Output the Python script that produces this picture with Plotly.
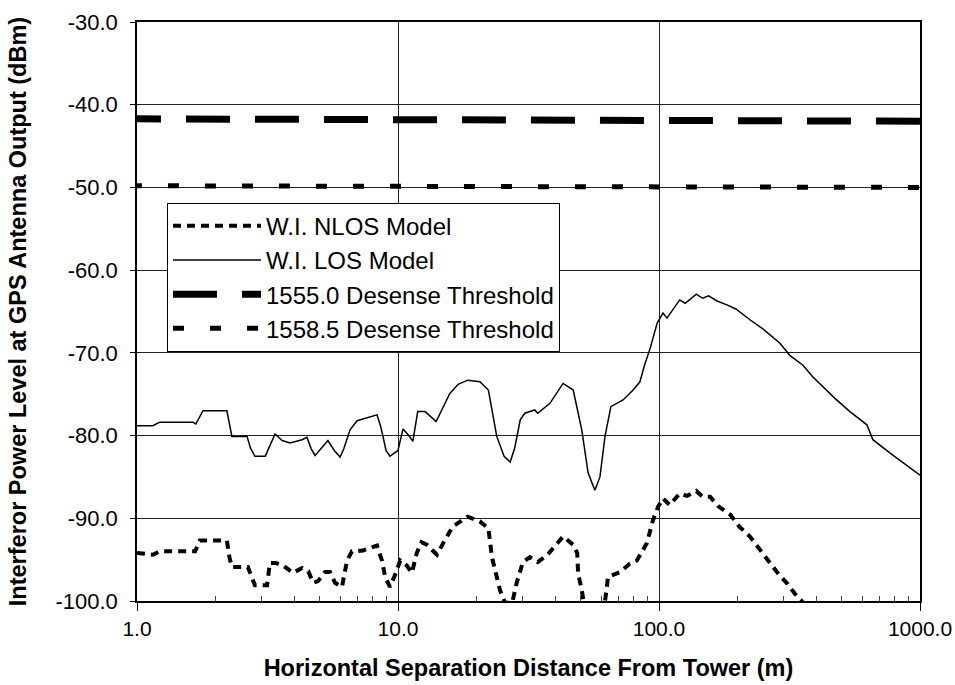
import plotly.graph_objects as go

# ---- data ----
los_x = [1.0, 1.15, 1.22, 1.64, 1.68, 1.79, 2.21, 2.31, 2.64, 2.72, 2.83, 3.1, 3.15, 3.38, 3.6, 3.86,
         4.29, 4.48, 4.65, 4.81, 5.0, 5.39, 5.7, 6.0, 6.2, 6.55, 6.97, 7.5, 8.31, 8.6, 9.0, 9.31, 10.0,
         10.45, 11.0, 11.4, 11.9, 12.7, 14.0, 15.8, 17.0, 18.5, 20.6, 22.2, 23.9, 25.5, 26.9, 28.0,
         29.4, 30.6, 33.4, 34.3, 38.2, 42.9, 46.9, 50.6, 53.5, 56.8, 59.4, 62.1, 65.4, 72.8, 79.6,
         84.5, 88.0, 92.6, 98.4, 103.6, 107.3, 120, 126, 139, 147, 155, 166, 182, 197, 223, 250, 290,
         317, 356, 388, 472, 539, 626, 660, 766, 861, 1000]
los_y = [-78.8, -78.8, -78.4, -78.4, -78.6, -77.0, -77.0, -80.1, -80.1, -81.5, -82.5, -82.5, -82.0,
         -79.8, -80.6, -80.9, -80.5, -80.2, -81.6, -82.4, -81.8, -80.6, -81.8, -82.6, -81.6, -79.3,
         -78.2, -77.9, -77.5, -79.0, -81.8, -82.5, -81.8, -79.2, -80.0, -80.7, -77.1, -77.1, -78.3,
         -74.9, -73.8, -73.3, -73.5, -74.5, -80.1, -82.5, -83.2, -81.5, -78.1, -77.3, -76.9, -77.3,
         -76.1, -73.7, -74.5, -79.3, -84.5, -86.6, -85.0, -80.1, -76.5, -75.7, -74.5, -73.5, -71.5,
         -69.4, -66.4, -65.2, -65.8, -63.6, -64.0, -62.9, -63.4, -63.1, -63.7, -64.2, -64.7, -66.0,
         -67.1, -68.8, -70.3, -71.5, -72.9, -75.5, -77.1, -78.7, -80.5, -82.1, -83.3, -84.8]

nlos_x = [1.0, 1.15, 1.22, 1.67, 1.74, 2.21, 2.26, 2.31, 2.66, 2.74, 2.83, 3.15, 3.23, 3.4, 3.62,
          3.96, 4.29, 4.53, 4.73, 4.94, 5.25, 5.49, 5.74, 6.1, 6.38, 6.66, 7.33, 8.31, 8.68, 8.93,
          9.31, 9.73, 10.2, 10.8, 11.3, 11.8, 12.3, 12.9, 14.1, 14.9, 16.2, 18.5, 20.6, 22.2, 22.9,
          24.6, 25.7, 27.4, 28.5, 30.1, 32.0, 34.3, 37.2, 42.9, 46.9, 48.6, 49.0, 50.6, 52.0, 56.8,
          61.5, 63.1, 63.7, 70.9, 77.3, 82.3, 89.9, 94.9, 99.2, 103.6, 110, 120, 128, 139, 147, 157,
          168, 188, 203, 223, 243, 283, 310, 331, 352, 380]
nlos_y = [-94.2, -94.4, -94.0, -94.0, -92.7, -92.7, -94.7, -95.9, -95.9, -97.1, -98.1, -98.1, -95.4,
          -95.4, -95.7, -96.6, -96.0, -96.4, -97.8, -97.6, -96.5, -96.5, -97.8, -98.3, -95.1, -94.0,
          -93.9, -93.3, -95.1, -97.1, -98.3, -96.9, -95.1, -95.7, -96.6, -94.2, -92.9, -93.2, -94.4,
          -93.0, -91.0, -89.8, -90.4, -91.2, -94.7, -98.7, -100.2, -100.2, -97.8, -95.3, -94.7, -95.3,
          -94.5, -92.2, -93.2, -94.2, -96.7, -98.7, -101.0, -106.0, -101.0, -98.4, -97.1, -96.5,
          -95.5, -95.1, -93.0, -90.2, -88.6, -87.6, -88.4, -87.0, -87.3, -86.7, -87.4, -87.4, -88.5,
          -89.6, -91.0, -92.2, -93.8, -96.5, -97.9, -99.1, -100.0, -101.5]

thr1555_x = [0.838, 1000]
thr1555_y = [-41.7, -42.0]
thr1558_x = [0.948, 1000]
thr1558_y = [-49.8, -50.0]

x_tickvals = [1, 10, 100, 1000]
x_ticktext = ["1.0", "10.0", "100.0", "1000.0"]
x_minorvals = [2, 3, 4, 5, 6, 7, 8, 9, 20, 30, 40, 50, 60, 70, 80, 90,
               200, 300, 400, 500, 600, 700, 800, 900]
y_tickvals = [-100, -90, -80, -70, -60, -50, -40, -30]
y_ticktext = ["-100.0", "-90.0", "-80.0", "-70.0", "-60.0", "-50.0", "-40.0", "-30.0"]

names = ["W.I. NLOS Model", "W.I. LOS Model", "1555.0 Desense Threshold", "1558.5 Desense Threshold"]

FONT = "Arial, Liberation Sans, sans-serif"

fig = go.Figure()
fig.add_trace(go.Scatter(x=nlos_x, y=nlos_y, mode="lines", name=names[0],
                         line=dict(color="black", width=4, dash="8px,6px")))
fig.add_trace(go.Scatter(x=los_x, y=los_y, mode="lines", name=names[1],
                         line=dict(color="black", width=1.5)))
fig.add_trace(go.Scatter(x=thr1555_x, y=thr1555_y, mode="lines", name=names[2],
                         line=dict(color="black", width=7, dash="44px,25px")))
fig.add_trace(go.Scatter(x=thr1558_x, y=thr1558_y, mode="lines", name=names[3],
                         line=dict(color="black", width=5, dash="11px,26px")))

fig.update_layout(
    width=955, height=685,
    margin=dict(l=137, r=35, t=22, b=84, autoexpand=False),
    paper_bgcolor="white", plot_bgcolor="white",
    font=dict(family=FONT, color="black", size=21),
    showlegend=True,
    legend=dict(x=0.0383, y=0.688, xanchor="left", yanchor="top",
                bgcolor="white", bordercolor="black", borderwidth=1,
                font=dict(size=24, family=FONT), tracegroupgap=0,
                itemwidth=88),
    xaxis=dict(type="log", range=[0, 3], tickmode="array", tickvals=x_tickvals, ticktext=x_ticktext,
               showgrid=True, gridcolor="#222", gridwidth=1,
               showline=True, linecolor="black", linewidth=1.5, mirror=True,
               ticks="outside", ticklen=8, tickcolor="black",
               ticklabelstandoff=0, automargin=False,
               minor=dict(tickmode="array", tickvals=x_minorvals, ticks="inside",
                          ticklen=5, tickcolor="#444", showgrid=False),
               tickfont=dict(size=21),
               title=dict(text="<b>Horizontal Separation Distance From Tower (m)</b>",
                          font=dict(size=23.5), standoff=21),
               zeroline=False),
    yaxis=dict(range=[-100, -30], tickmode="array", tickvals=y_tickvals, ticktext=y_ticktext,
               showgrid=True, gridcolor="#222", gridwidth=1,
               showline=True, linecolor="black", linewidth=1.5, mirror=True,
               ticks="outside", ticklen=5, tickcolor="black",
               ticklabelstandoff=8, automargin=False,
               tickfont=dict(size=22),
               title=dict(text="<b>Interferor Power Level at GPS Antenna Output (dBm)</b>",
                          font=dict(size=23.5), standoff=22),
               zeroline=False),
)

fig.write_html("out.html", config={"displayModeBar": False},
               post_script="document.body.style.margin='0px';")
